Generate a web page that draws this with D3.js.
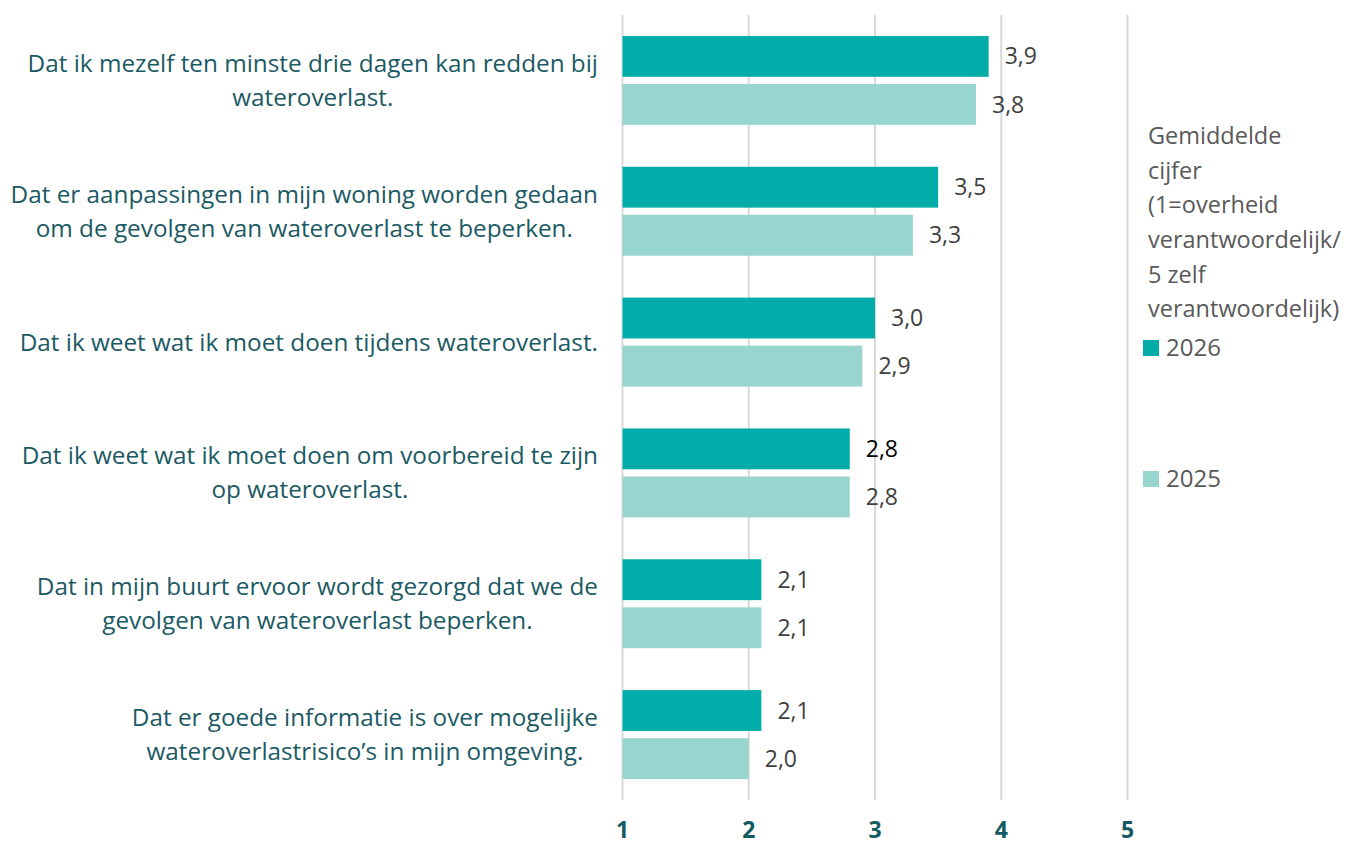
<!DOCTYPE html>
<html>
<head>
<meta charset="utf-8">
<script src="https://cdn.jsdelivr.net/npm/d3@7"></script>
<style>
  body { margin: 0; background: #fff; }
  svg { display: block; font-family: "Open Sans", sans-serif; }
</style>
</head>
<body>
<svg></svg>
<script>
const categories = [
  ["Dat ik mezelf ten minste drie dagen kan redden bij", "wateroverlast."],
  ["Dat er aanpassingen in mijn woning worden gedaan", "om de gevolgen van wateroverlast te beperken."],
  ["Dat ik weet wat ik moet doen tijdens wateroverlast."],
  ["Dat ik weet wat ik moet doen om voorbereid te zijn", "op wateroverlast."],
  ["Dat in mijn buurt ervoor wordt gezorgd dat we de", "gevolgen van wateroverlast beperken."],
  ["Dat er goede informatie is over mogelijke", "wateroverlastrisico\u2019s in mijn omgeving."]
];
const series = ["2026", "2025"];
const values2026 = [3.9, 3.5, 3.0, 2.8, 2.1, 2.1];
const values2025 = [3.8, 3.3, 2.9, 2.8, 2.1, 2.0];
const ticks = [1, 2, 3, 4, 5];
const legendTitle = ["Gemiddelde", "cijfer", "(1=overheid", "verantwoordelijk/", "5 zelf", "verantwoordelijk)"];

const colors = { "2026": "#02ada9", "2025": "#98d5ce" };

const svg = d3.select("svg").attr("width", 1346).attr("height", 846);

const x = d3.scaleLinear().domain([1, 5]).range([622.5, 1127.5]);
const y = d3.scaleBand().domain(d3.range(categories.length)).range([15, 800]).paddingInner(0.32).paddingOuter(0.16);
const inner = d3.scaleBand().domain(series).range([0, y.bandwidth()]).paddingInner(0.15);

// gridlines
svg.append("g").selectAll("line").data(ticks).join("line")
  .attr("x1", d => x(d)).attr("x2", d => x(d))
  .attr("y1", 15).attr("y2", 800)
  .attr("stroke", "#d9d9d9").attr("stroke-width", 2);

// tick labels
svg.append("g").selectAll("text").data(ticks).join("text")
  .attr("x", d => x(d)).attr("y", 838)
  .attr("text-anchor", "middle")
  .attr("font-size", 23).attr("font-weight", "bold")
  .attr("fill", "#135a63")
  .text(d => d);

const rows = categories.map((c, i) => ({ i, c, v: { "2026": values2026[i], "2025": values2025[i] } }));
const fmt = v => d3.format(".1f")(v).replace(".", ",");

const g = svg.append("g").selectAll("g").data(rows).join("g")
  .attr("transform", d => `translate(0,${y(d.i)})`);

g.selectAll("rect").data(d => series.map(s => ({ s, v: d.v[s] }))).join("rect")
  .attr("x", x(1))
  .attr("y", d => inner(d.s))
  .attr("width", d => x(d.v) - x(1))
  .attr("height", inner.bandwidth())
  .attr("fill", d => colors[d.s]);

g.selectAll("text.val").data(d => series.map(s => ({ s, v: d.v[s], i: d.i }))).join("text")
  .attr("class", "val")
  .attr("x", d => x(d.v) + 16)
  .attr("y", d => inner(d.s) + inner.bandwidth() / 2)
  .attr("dy", "0.35em")
  .attr("font-size", 23)
  .attr("fill", d => (d.i === 3 && d.s === "2026") ? "#000" : "#404040")
  .text(d => fmt(d.v));

// category labels, centered block right-aligned near the axis
g.each(function (d) {
  const lab = d3.select(this).append("text")
    .attr("font-size", 24.3).attr("fill", "#1b5a63")
    .attr("text-anchor", "middle");
  const n = d.c.length;
  const mid = y.bandwidth() / 2;
  d.c.forEach((line, k) => {
    lab.append("tspan").attr("y", mid + (k - (n - 1) / 2) * 34).attr("dy", "0.35em").text(line);
  });
  let w = 0;
  lab.selectAll("tspan").each(function () { w = Math.max(w, this.getComputedTextLength()); });
  lab.selectAll("tspan").attr("x", 598 - w / 2);
});

// legend
const leg = svg.append("g");
leg.append("text").attr("font-size", 23.5).attr("fill", "#595959")
  .selectAll("tspan").data(legendTitle).join("tspan")
  .attr("x", 1148).attr("y", (d, i) => 136 + i * 34.6).attr("dy", "0.35em")
  .text(d => d);

const legY = { "2026": 348, "2025": 479 };
series.forEach(s => {
  leg.append("rect").attr("x", 1143).attr("y", legY[s] - 8).attr("width", 16).attr("height", 16).attr("fill", colors[s]);
  leg.append("text").attr("x", 1166).attr("y", legY[s]).attr("dy", "0.35em")
    .attr("font-size", 24).attr("fill", "#595959").text(s);
});
</script>
</body>
</html>
